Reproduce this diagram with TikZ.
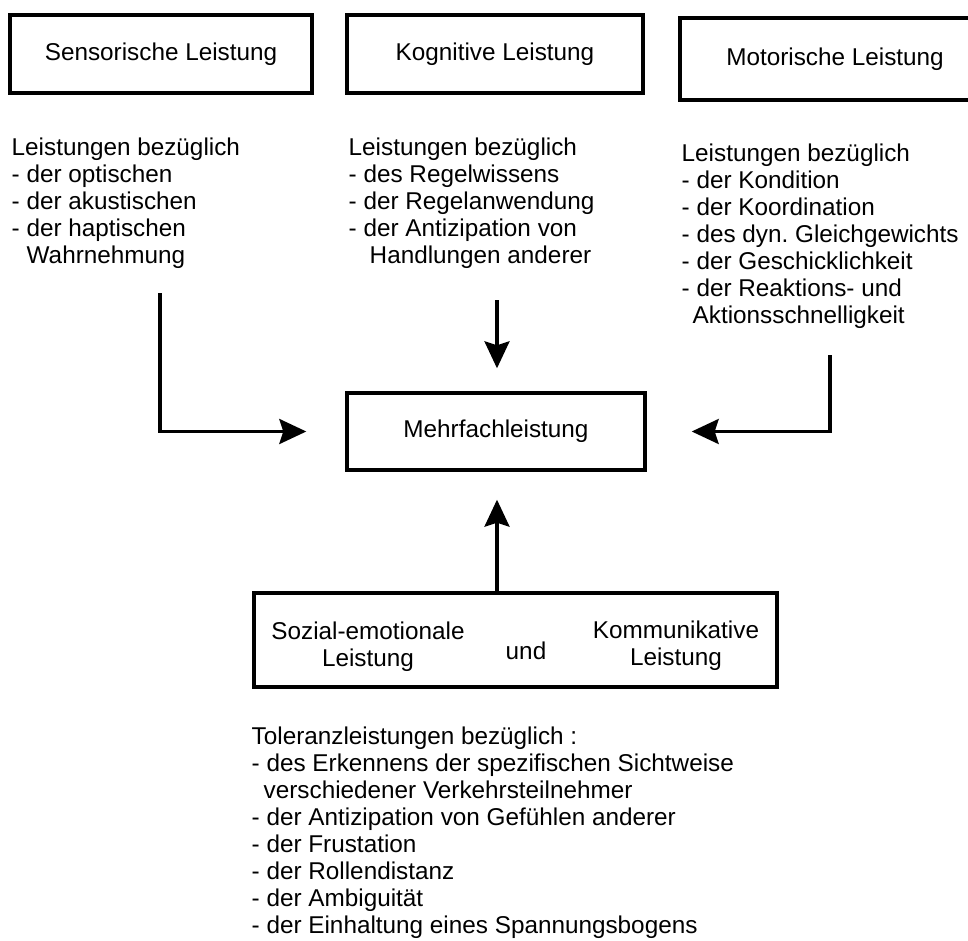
\documentclass[tikz,border=0pt]{standalone}
\usepackage{fontspec}
\setmainfont{Liberation Sans}
\usetikzlibrary{arrows.meta,positioning}

\begin{document}
\begin{tikzpicture}[x=1pt,y=-1pt,>={Stealth[length=27pt,width=25pt,inset=4pt]},
    line width=3.4pt,font=\fontsize{24.3}{27}\selectfont,
    box/.style={draw,rectangle,inner sep=0pt},
    list/.style={align=left,anchor=north west,inner sep=0pt},
    elbow/.style={to path={|- (\tikztotarget)}}]
    \useasboundingbox (0,0) rectangle (968,941);

    \node[box,minimum width=302pt,minimum height=78pt] (sens) at (161,54) {Sensorische Leistung};
    \node[box,minimum width=296pt,minimum height=78pt] [right of=sens,node distance=334pt] (kog) {Kognitive Leistung};
    \node[box,minimum width=310pt,minimum height=82pt] (mot) at (835,59) {Motorische Leistung};

    \node[list] (senslist) at (10,136) {Leistungen bezüglich\\- der optischen\\- der akustischen\\- der haptischen\\\hspace*{15pt}Wahrnehmung};
    \node[list] (koglist) at (347,136) {Leistungen bezüglich\\- des Regelwissens\\- der Regelanwendung\\- der Antizipation von\\\hspace*{21pt}Handlungen anderer};
    \node[list] (motlist) at (680,142) {Leistungen bezüglich\\- der Kondition\\- der Koordination\\- des dyn.\ Gleichgewichts\\- der Geschicklichkeit\\- der Reaktions- und\\\hspace*{11pt}Aktionsschnelligkeit};

    \node[box,minimum width=298pt,minimum height=77pt] (mehr) at (496,431.5) {Mehrfachleistung};

    \node[box,minimum width=523pt,minimum height=94pt] (sozkom) at (515.5,640) {};
    \node[align=center,inner sep=0pt] (sozial) at (368,647) {Sozial-emotionale\\Leistung};
    \node[inner sep=0pt] (und) at (526,651) {und};
    \node[align=center,inner sep=0pt] (komm) at (676,646) {Kommunikative\\Leistung};

    \node[list] (tollist) at (250,725) {Toleranzleistungen bezüglich :\\- des Erkennens der spezifischen Sichtweise\\\hspace*{12pt}verschiedener Verkehrsteilnehmer\\- der Antizipation von Gefühlen anderer\\- der Frustation\\- der Rollendistanz\\- der Ambiguität\\- der Einhaltung eines Spannungsbogens};

    \coordinate (sensEnd) at (160,293);
    \coordinate (kogEnd) at (497,300);
    \coordinate (motEnd) at (830,355);

    \path[->]
      (sensEnd)
        edge[elbow,shorten >=39pt] (mehr)
      (kogEnd)
        edge[shorten >=23pt] (kogEnd |- mehr.north)
      (motEnd)
        edge[elbow,shorten >=45pt] (mehr)
      (sozkom.north -| kogEnd)
        edge[shorten >=28pt] (kogEnd |- mehr.south)
    ;
  \end{tikzpicture}
\end{document}
